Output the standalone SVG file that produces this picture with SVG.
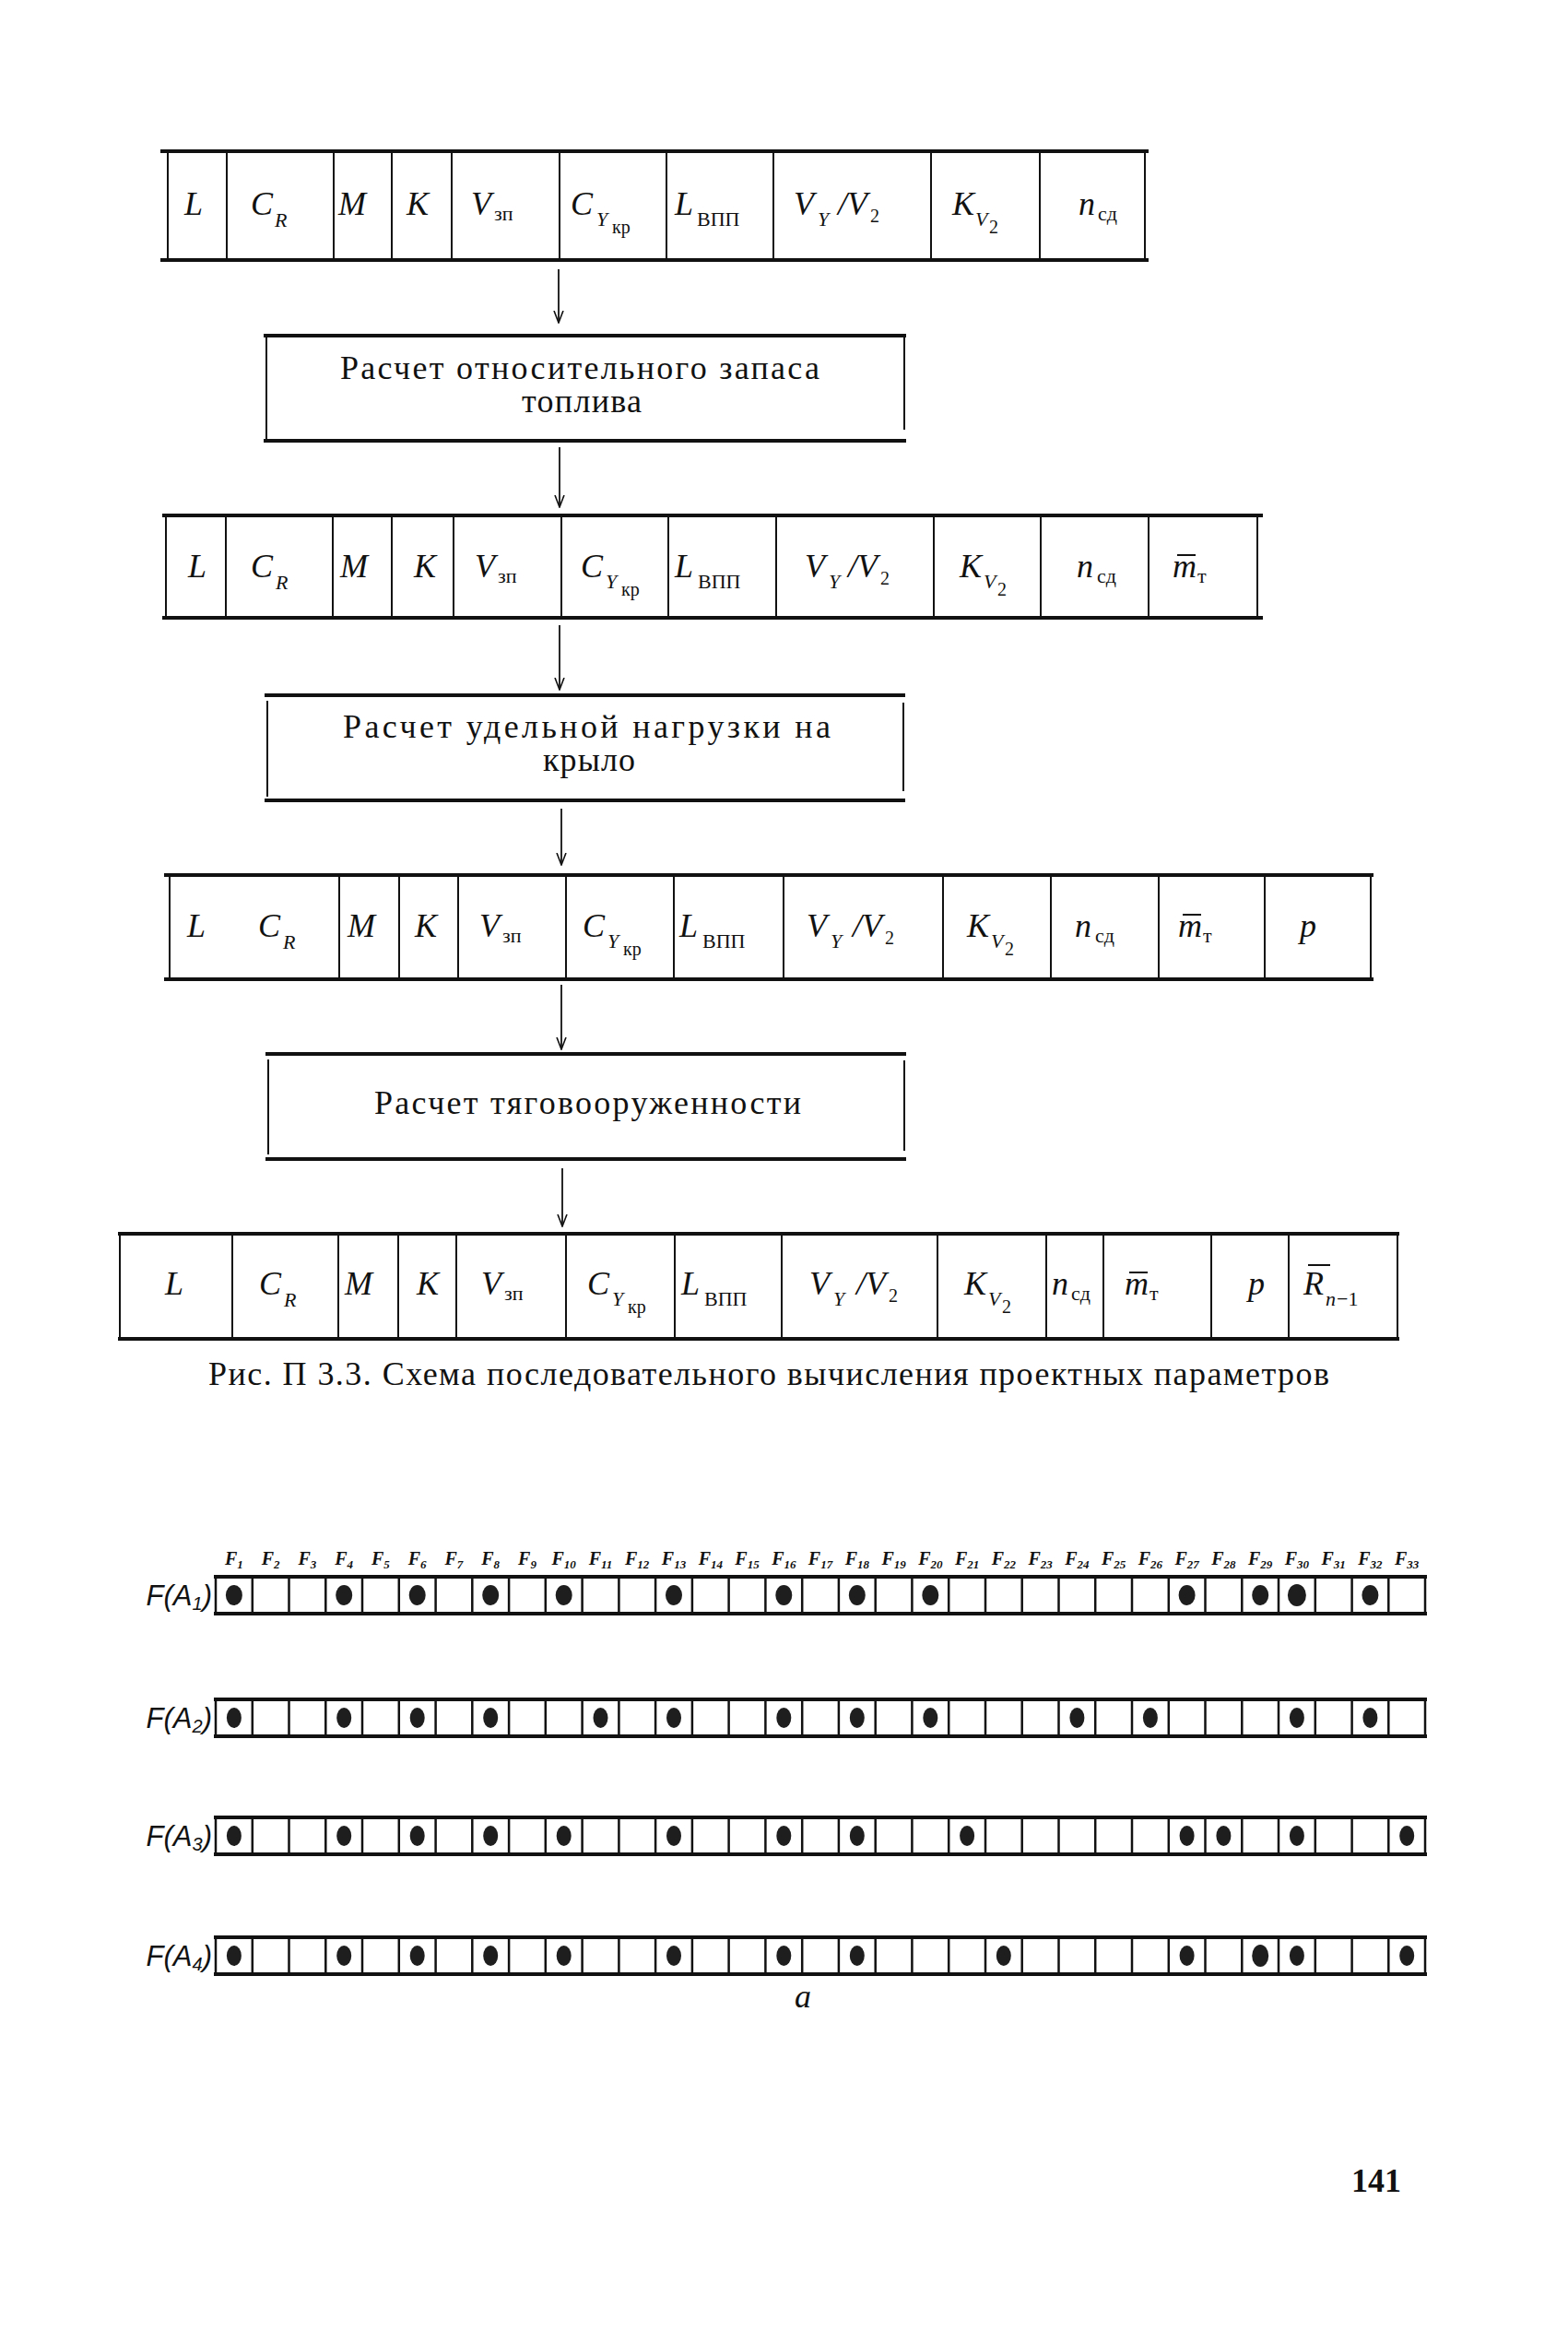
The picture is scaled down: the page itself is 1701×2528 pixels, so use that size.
<svg xmlns="http://www.w3.org/2000/svg" xmlns:xlink="http://www.w3.org/1999/xlink" width="1701" height="2528" viewBox="0 0 1701 2528">
<style>
.bg{fill:#fff}
.th{stroke:#111;stroke-width:4;fill:none}
.tn{stroke:#111;stroke-width:2;fill:none}
.conn{stroke:#111;stroke-width:1.8;fill:none}
.v{font-family:"Liberation Serif",serif;font-style:italic;font-size:36px;fill:#111}
.u{font-style:normal;font-size:22px}
.si{font-size:22px}
.s2{font-style:normal;font-size:20px}
.bt{font-family:"Liberation Serif",serif;font-size:36px;fill:#111}
.cap{font-family:"Liberation Serif",serif;font-size:36px;fill:#111}
.fl{font-family:"Liberation Serif",serif;font-style:italic;font-weight:bold;font-size:20px;fill:#111}
.rl{font-family:"Liberation Sans",sans-serif;font-style:italic;font-size:31px;fill:#111}
.dot{fill:#1e1e1e}
.gr{stroke:#111;stroke-width:2.5;fill:none}
.gb{stroke:#111;stroke-width:4;fill:none}
</style>
<defs>
<marker id="ah" viewBox="0 -7 14 14" refX="13" refY="0" markerWidth="14" markerHeight="14" markerUnits="userSpaceOnUse" orient="auto">
<path d="M0,-5 L13,0 L0,5" stroke="#111" stroke-width="1.6" fill="none"/>
</marker>
<g id="gridrow">
<path class="gr" d="M234,0V40M273.8,0V40M313.5,0V40M353.3,0V40M393,0V40M432.8,0V40M472.6,0V40M512.3,0V40M552.1,0V40M591.8,0V40M631.6,0V40M671.4,0V40M711.1,0V40M750.9,0V40M790.6,0V40M830.4,0V40M870.2,0V40M909.9,0V40M949.7,0V40M989.4,0V40M1029.2,0V40M1069,0V40M1108.7,0V40M1148.5,0V40M1188.2,0V40M1228,0V40M1267.8,0V40M1307.5,0V40M1347.3,0V40M1387,0V40M1426.8,0V40M1466.6,0V40M1506.3,0V40M1546,0V40"/>
<path class="gb" d="M232,0H1548M232,40H1548"/>
</g>
</defs>
<rect class="bg" x="0" y="0" width="1701" height="2528"/>

<!-- Row 1 -->
<g id="row1">
<path class="th" d="M174,164H1246M174,282H1246"/>
<path class="tn" d="M182,166V280M246,166V280M362,166V280M425,166V280M490,166V280M607,166V280M723,166V280M839,166V280M1010,166V280M1128,166V280M1242,166V280"/>
<text class="v"><tspan x="200" y="233">L</tspan></text>
<text class="v"><tspan x="272" y="233">C</tspan><tspan class="si" x="298" y="246">R</tspan></text>
<text class="v"><tspan x="367" y="233">M</tspan></text>
<text class="v"><tspan x="441" y="233">K</tspan></text>
<text class="v"><tspan x="511" y="233">V</tspan><tspan class="u" x="536" y="239">зп</tspan></text>
<text class="v"><tspan x="619" y="233">C</tspan><tspan class="si" x="647" y="245">Y</tspan><tspan class="s2" x="664" y="253">кр</tspan></text>
<text class="v"><tspan x="732" y="233">L</tspan><tspan class="u" x="756" y="245">ВПП</tspan></text>
<text class="v"><tspan x="861" y="233">V</tspan><tspan class="si" x="887" y="245">Y</tspan><tspan x="909" y="233">/V</tspan><tspan class="s2" x="944" y="241">2</tspan></text>
<text class="v"><tspan x="1033" y="233">K</tspan><tspan class="si" x="1058" y="245">V</tspan><tspan class="s2" x="1073" y="253" font-size="16">2</tspan></text>
<text class="v"><tspan x="1170" y="233">n</tspan><tspan class="u" x="1191" y="239">сд</tspan></text>
</g>

<!-- Box 1 -->
<g id="box1">
<path class="th" d="M286,364H983M286,478H983"/>
<path class="tn" d="M289,366V476M981,366V466"/>
<text class="bt" x="369" y="411" textLength="520">Расчет относительного запаса</text>
<text class="bt" x="566" y="447" textLength="130">топлива</text>
</g>

<!-- Row 2 -->
<g id="row2">
<path class="th" d="M176,559H1370M176,670H1370"/>
<path class="tn" d="M180,561V668M245,561V668M361,561V668M425,561V668M492,561V668M609,561V668M725,561V668M842,561V668M1013,561V668M1129,561V668M1246,561V668M1364,561V668"/>
<text class="v"><tspan x="204" y="626">L</tspan></text>
<text class="v"><tspan x="272" y="626">C</tspan><tspan class="si" x="299" y="639">R</tspan></text>
<text class="v"><tspan x="369" y="626">M</tspan></text>
<text class="v"><tspan x="449" y="626">K</tspan></text>
<text class="v"><tspan x="515" y="626">V</tspan><tspan class="u" x="540" y="632">зп</tspan></text>
<text class="v"><tspan x="630" y="626">C</tspan><tspan class="si" x="657" y="638">Y</tspan><tspan class="s2" x="674" y="646">кр</tspan></text>
<text class="v"><tspan x="732" y="626">L</tspan><tspan class="u" x="757" y="638">ВПП</tspan></text>
<text class="v"><tspan x="873" y="626">V</tspan><tspan class="si" x="899" y="638">Y</tspan><tspan x="920" y="626">/V</tspan><tspan class="s2" x="955" y="634">2</tspan></text>
<text class="v"><tspan x="1041" y="626">K</tspan><tspan class="si" x="1067" y="638">V</tspan><tspan class="s2" x="1082" y="646" font-size="16">2</tspan></text>
<text class="v"><tspan x="1168" y="626">n</tspan><tspan class="u" x="1190" y="632">сд</tspan></text>
<text class="v"><tspan x="1272" y="626">m</tspan><tspan class="u" x="1299" y="632">т</tspan></text>
<path class="tn" d="M1277,602H1297"/>
</g>

<!-- Box 2 -->
<g id="box2">
<path class="th" d="M287,754H982M287,868H982"/>
<path class="tn" d="M290,760V864M980,762V858"/>
<text class="bt" x="372" y="800" textLength="529">Расчет удельной нагрузки на</text>
<text class="bt" x="589" y="836" textLength="100">крыло</text>
</g>

<!-- Row 3 -->
<g id="row3">
<path class="th" d="M178,949H1490M178,1062H1490"/>
<path class="tn" d="M184,951V1060M368,951V1060M433,951V1060M497,951V1060M614,951V1060M731,951V1060M850,951V1060M1023,951V1060M1140,951V1060M1257,951V1060M1372,951V1060M1487,951V1060"/>
<text class="v"><tspan x="203" y="1016">L</tspan></text>
<text class="v"><tspan x="280" y="1016">C</tspan><tspan class="si" x="307" y="1029">R</tspan></text>
<text class="v"><tspan x="377" y="1016">M</tspan></text>
<text class="v"><tspan x="450" y="1016">K</tspan></text>
<text class="v"><tspan x="520" y="1016">V</tspan><tspan class="u" x="545" y="1022">зп</tspan></text>
<text class="v"><tspan x="632" y="1016">C</tspan><tspan class="si" x="659" y="1028">Y</tspan><tspan class="s2" x="676" y="1036">кр</tspan></text>
<text class="v"><tspan x="737" y="1016">L</tspan><tspan class="u" x="762" y="1028">ВПП</tspan></text>
<text class="v"><tspan x="875" y="1016">V</tspan><tspan class="si" x="901" y="1028">Y</tspan><tspan x="925" y="1016">/V</tspan><tspan class="s2" x="960" y="1024">2</tspan></text>
<text class="v"><tspan x="1049" y="1016">K</tspan><tspan class="si" x="1075" y="1028">V</tspan><tspan class="s2" x="1090" y="1036" font-size="16">2</tspan></text>
<text class="v"><tspan x="1166" y="1016">n</tspan><tspan class="u" x="1188" y="1022">сд</tspan></text>
<text class="v"><tspan x="1278" y="1016">m</tspan><tspan class="u" x="1305" y="1022">т</tspan></text>
<path class="tn" d="M1283,992H1303"/>
<text class="v"><tspan x="1410" y="1016">p</tspan></text>
</g>

<!-- Box 3 -->
<g id="box3">
<path class="th" d="M288,1143H983M288,1257H983"/>
<path class="tn" d="M291,1149V1252M981,1150V1248"/>
<text class="bt" x="406" y="1208" textLength="463">Расчет тяговооруженности</text>
</g>

<!-- Row 4 -->
<g id="row4">
<path class="th" d="M128,1338H1518M128,1452H1518"/>
<path class="tn" d="M130,1340V1450M252,1340V1450M367,1340V1450M432,1340V1450M495,1340V1450M614,1340V1450M732,1340V1450M848,1340V1450M1017,1340V1450M1135,1340V1450M1197,1340V1450M1314,1340V1450M1398,1340V1450M1516,1340V1450"/>
<text class="v"><tspan x="179" y="1404">L</tspan></text>
<text class="v"><tspan x="281" y="1404">C</tspan><tspan class="si" x="308" y="1417">R</tspan></text>
<text class="v"><tspan x="374" y="1404">M</tspan></text>
<text class="v"><tspan x="452" y="1404">K</tspan></text>
<text class="v"><tspan x="522" y="1404">V</tspan><tspan class="u" x="547" y="1410">зп</tspan></text>
<text class="v"><tspan x="637" y="1404">C</tspan><tspan class="si" x="664" y="1416">Y</tspan><tspan class="s2" x="681" y="1424">кр</tspan></text>
<text class="v"><tspan x="739" y="1404">L</tspan><tspan class="u" x="764" y="1416">ВПП</tspan></text>
<text class="v"><tspan x="878" y="1404">V</tspan><tspan class="si" x="904" y="1416">Y</tspan><tspan x="929" y="1404">/V</tspan><tspan class="s2" x="964" y="1412">2</tspan></text>
<text class="v"><tspan x="1046" y="1404">K</tspan><tspan class="si" x="1072" y="1416">V</tspan><tspan class="s2" x="1087" y="1424" font-size="16">2</tspan></text>
<text class="v"><tspan x="1141" y="1404">n</tspan><tspan class="u" x="1162" y="1410">сд</tspan></text>
<text class="v"><tspan x="1220" y="1404">m</tspan><tspan class="u" x="1247" y="1410">т</tspan></text>
<path class="tn" d="M1225,1380H1245"/>
<text class="v"><tspan x="1354" y="1404">p</tspan></text>
<text class="v"><tspan x="1414" y="1404">R</tspan><tspan class="si" x="1438" y="1416">n</tspan><tspan class="u" x="1450" y="1416">−1</tspan></text>
<path class="tn" d="M1419,1372H1443"/>
</g>

<!-- Connectors -->
<g id="connectors">
<path class="conn" d="M606,292V350" marker-end="url(#ah)"/>
<path class="conn" d="M607,485V550" marker-end="url(#ah)"/>
<path class="conn" d="M607,678V748" marker-end="url(#ah)"/>
<path class="conn" d="M609,877V938" marker-end="url(#ah)"/>
<path class="conn" d="M609,1068V1138" marker-end="url(#ah)"/>
<path class="conn" d="M610,1267V1330" marker-end="url(#ah)"/>
</g>

<text id="caption" class="cap" x="226" y="1502" textLength="1216">Рис. П 3.3. Схема последовательного вычисления проектных параметров</text>

<!-- Lower grid -->
<g id="flabels">
<text class="fl" x="253.9" y="1697" text-anchor="middle">F<tspan font-size="13" dy="4">1</tspan></text>
<text class="fl" x="293.6" y="1697" text-anchor="middle">F<tspan font-size="13" dy="4">2</tspan></text>
<text class="fl" x="333.4" y="1697" text-anchor="middle">F<tspan font-size="13" dy="4">3</tspan></text>
<text class="fl" x="373.2" y="1697" text-anchor="middle">F<tspan font-size="13" dy="4">4</tspan></text>
<text class="fl" x="412.9" y="1697" text-anchor="middle">F<tspan font-size="13" dy="4">5</tspan></text>
<text class="fl" x="452.7" y="1697" text-anchor="middle">F<tspan font-size="13" dy="4">6</tspan></text>
<text class="fl" x="492.4" y="1697" text-anchor="middle">F<tspan font-size="13" dy="4">7</tspan></text>
<text class="fl" x="532.2" y="1697" text-anchor="middle">F<tspan font-size="13" dy="4">8</tspan></text>
<text class="fl" x="572" y="1697" text-anchor="middle">F<tspan font-size="13" dy="4">9</tspan></text>
<text class="fl" x="611.7" y="1697" text-anchor="middle">F<tspan font-size="13" dy="4">10</tspan></text>
<text class="fl" x="651.5" y="1697" text-anchor="middle">F<tspan font-size="13" dy="4">11</tspan></text>
<text class="fl" x="691.2" y="1697" text-anchor="middle">F<tspan font-size="13" dy="4">12</tspan></text>
<text class="fl" x="731" y="1697" text-anchor="middle">F<tspan font-size="13" dy="4">13</tspan></text>
<text class="fl" x="770.8" y="1697" text-anchor="middle">F<tspan font-size="13" dy="4">14</tspan></text>
<text class="fl" x="810.5" y="1697" text-anchor="middle">F<tspan font-size="13" dy="4">15</tspan></text>
<text class="fl" x="850.3" y="1697" text-anchor="middle">F<tspan font-size="13" dy="4">16</tspan></text>
<text class="fl" x="890" y="1697" text-anchor="middle">F<tspan font-size="13" dy="4">17</tspan></text>
<text class="fl" x="929.8" y="1697" text-anchor="middle">F<tspan font-size="13" dy="4">18</tspan></text>
<text class="fl" x="969.6" y="1697" text-anchor="middle">F<tspan font-size="13" dy="4">19</tspan></text>
<text class="fl" x="1009.3" y="1697" text-anchor="middle">F<tspan font-size="13" dy="4">20</tspan></text>
<text class="fl" x="1049.1" y="1697" text-anchor="middle">F<tspan font-size="13" dy="4">21</tspan></text>
<text class="fl" x="1088.8" y="1697" text-anchor="middle">F<tspan font-size="13" dy="4">22</tspan></text>
<text class="fl" x="1128.6" y="1697" text-anchor="middle">F<tspan font-size="13" dy="4">23</tspan></text>
<text class="fl" x="1168.4" y="1697" text-anchor="middle">F<tspan font-size="13" dy="4">24</tspan></text>
<text class="fl" x="1208.1" y="1697" text-anchor="middle">F<tspan font-size="13" dy="4">25</tspan></text>
<text class="fl" x="1247.9" y="1697" text-anchor="middle">F<tspan font-size="13" dy="4">26</tspan></text>
<text class="fl" x="1287.6" y="1697" text-anchor="middle">F<tspan font-size="13" dy="4">27</tspan></text>
<text class="fl" x="1327.4" y="1697" text-anchor="middle">F<tspan font-size="13" dy="4">28</tspan></text>
<text class="fl" x="1367.2" y="1697" text-anchor="middle">F<tspan font-size="13" dy="4">29</tspan></text>
<text class="fl" x="1406.9" y="1697" text-anchor="middle">F<tspan font-size="13" dy="4">30</tspan></text>
<text class="fl" x="1446.7" y="1697" text-anchor="middle">F<tspan font-size="13" dy="4">31</tspan></text>
<text class="fl" x="1486.4" y="1697" text-anchor="middle">F<tspan font-size="13" dy="4">32</tspan></text>
<text class="fl" x="1526.2" y="1697" text-anchor="middle">F<tspan font-size="13" dy="4">33</tspan></text>
</g>

<g id="gridA1">
<use xlink:href="#gridrow" href="#gridrow" y="1710"/>
<text class="rl" x="230" y="1741" text-anchor="end">F(A<tspan font-size="20" dy="5">1</tspan><tspan dy="-5">)</tspan></text>
<ellipse class="dot" cx="253.9" cy="1730" rx="9" ry="11"/>
<ellipse class="dot" cx="373.2" cy="1730" rx="9" ry="11"/>
<ellipse class="dot" cx="452.7" cy="1730" rx="9" ry="11"/>
<ellipse class="dot" cx="532.2" cy="1730" rx="9" ry="11"/>
<ellipse class="dot" cx="611.7" cy="1730" rx="9" ry="11"/>
<ellipse class="dot" cx="731" cy="1730" rx="9" ry="11"/>
<ellipse class="dot" cx="850.3" cy="1730" rx="9" ry="11"/>
<ellipse class="dot" cx="929.8" cy="1730" rx="9" ry="11"/>
<ellipse class="dot" cx="1009.3" cy="1730" rx="9" ry="11"/>
<ellipse class="dot" cx="1287.6" cy="1730" rx="9" ry="11"/>
<ellipse class="dot" cx="1367.2" cy="1730" rx="9" ry="11"/>
<ellipse class="dot" cx="1406.9" cy="1730" rx="10" ry="12"/>
<ellipse class="dot" cx="1486.4" cy="1730" rx="9" ry="11"/>
</g>

<g id="gridA2">
<use xlink:href="#gridrow" href="#gridrow" y="1843"/>
<text class="rl" x="230" y="1874" text-anchor="end">F(A<tspan font-size="20" dy="5">2</tspan><tspan dy="-5">)</tspan></text>
<ellipse class="dot" cx="253.9" cy="1863" rx="8" ry="11"/>
<ellipse class="dot" cx="373.2" cy="1863" rx="8" ry="11"/>
<ellipse class="dot" cx="452.7" cy="1863" rx="8" ry="11"/>
<ellipse class="dot" cx="532.2" cy="1863" rx="8" ry="11"/>
<ellipse class="dot" cx="651.5" cy="1863" rx="8" ry="11"/>
<ellipse class="dot" cx="731" cy="1863" rx="8" ry="11"/>
<ellipse class="dot" cx="850.3" cy="1863" rx="8" ry="11"/>
<ellipse class="dot" cx="929.8" cy="1863" rx="8" ry="11"/>
<ellipse class="dot" cx="1009.3" cy="1863" rx="8" ry="11"/>
<ellipse class="dot" cx="1168.4" cy="1863" rx="8" ry="11"/>
<ellipse class="dot" cx="1247.9" cy="1863" rx="8" ry="11"/>
<ellipse class="dot" cx="1406.9" cy="1863" rx="8" ry="11"/>
<ellipse class="dot" cx="1486.4" cy="1863" rx="8" ry="11"/>
</g>

<g id="gridA3">
<use xlink:href="#gridrow" href="#gridrow" y="1971"/>
<text class="rl" x="230" y="2002" text-anchor="end">F(A<tspan font-size="20" dy="5">3</tspan><tspan dy="-5">)</tspan></text>
<ellipse class="dot" cx="253.9" cy="1991" rx="8" ry="11"/>
<ellipse class="dot" cx="373.2" cy="1991" rx="8" ry="11"/>
<ellipse class="dot" cx="452.7" cy="1991" rx="8" ry="11"/>
<ellipse class="dot" cx="532.2" cy="1991" rx="8" ry="11"/>
<ellipse class="dot" cx="611.7" cy="1991" rx="8" ry="11"/>
<ellipse class="dot" cx="731" cy="1991" rx="8" ry="11"/>
<ellipse class="dot" cx="850.3" cy="1991" rx="8" ry="11"/>
<ellipse class="dot" cx="929.8" cy="1991" rx="8" ry="11"/>
<ellipse class="dot" cx="1049.1" cy="1991" rx="8" ry="11"/>
<ellipse class="dot" cx="1287.6" cy="1991" rx="8" ry="11"/>
<ellipse class="dot" cx="1327.4" cy="1991" rx="8" ry="11"/>
<ellipse class="dot" cx="1406.9" cy="1991" rx="8" ry="11"/>
<ellipse class="dot" cx="1526.2" cy="1991" rx="8" ry="11"/>
</g>

<g id="gridA4">
<use xlink:href="#gridrow" href="#gridrow" y="2101"/>
<text class="rl" x="230" y="2132" text-anchor="end">F(A<tspan font-size="20" dy="5">4</tspan><tspan dy="-5">)</tspan></text>
<ellipse class="dot" cx="253.9" cy="2121" rx="8" ry="11"/>
<ellipse class="dot" cx="373.2" cy="2121" rx="8" ry="11"/>
<ellipse class="dot" cx="452.7" cy="2121" rx="8" ry="11"/>
<ellipse class="dot" cx="532.2" cy="2121" rx="8" ry="11"/>
<ellipse class="dot" cx="611.7" cy="2121" rx="8" ry="11"/>
<ellipse class="dot" cx="731" cy="2121" rx="8" ry="11"/>
<ellipse class="dot" cx="850.3" cy="2121" rx="8" ry="11"/>
<ellipse class="dot" cx="929.8" cy="2121" rx="8" ry="11"/>
<ellipse class="dot" cx="1088.8" cy="2121" rx="8" ry="11"/>
<ellipse class="dot" cx="1287.6" cy="2121" rx="8" ry="11"/>
<ellipse class="dot" cx="1367.2" cy="2121" rx="9" ry="12"/>
<ellipse class="dot" cx="1406.9" cy="2121" rx="8" ry="11"/>
<ellipse class="dot" cx="1526.2" cy="2121" rx="8" ry="11"/>
</g>

<text class="v" x="871" y="2177" text-anchor="middle" font-size="40">а</text>
<text x="1493" y="2377" text-anchor="middle" font-family="Liberation Serif, serif" font-weight="bold" font-size="36" fill="#111">141</text>
</svg>
